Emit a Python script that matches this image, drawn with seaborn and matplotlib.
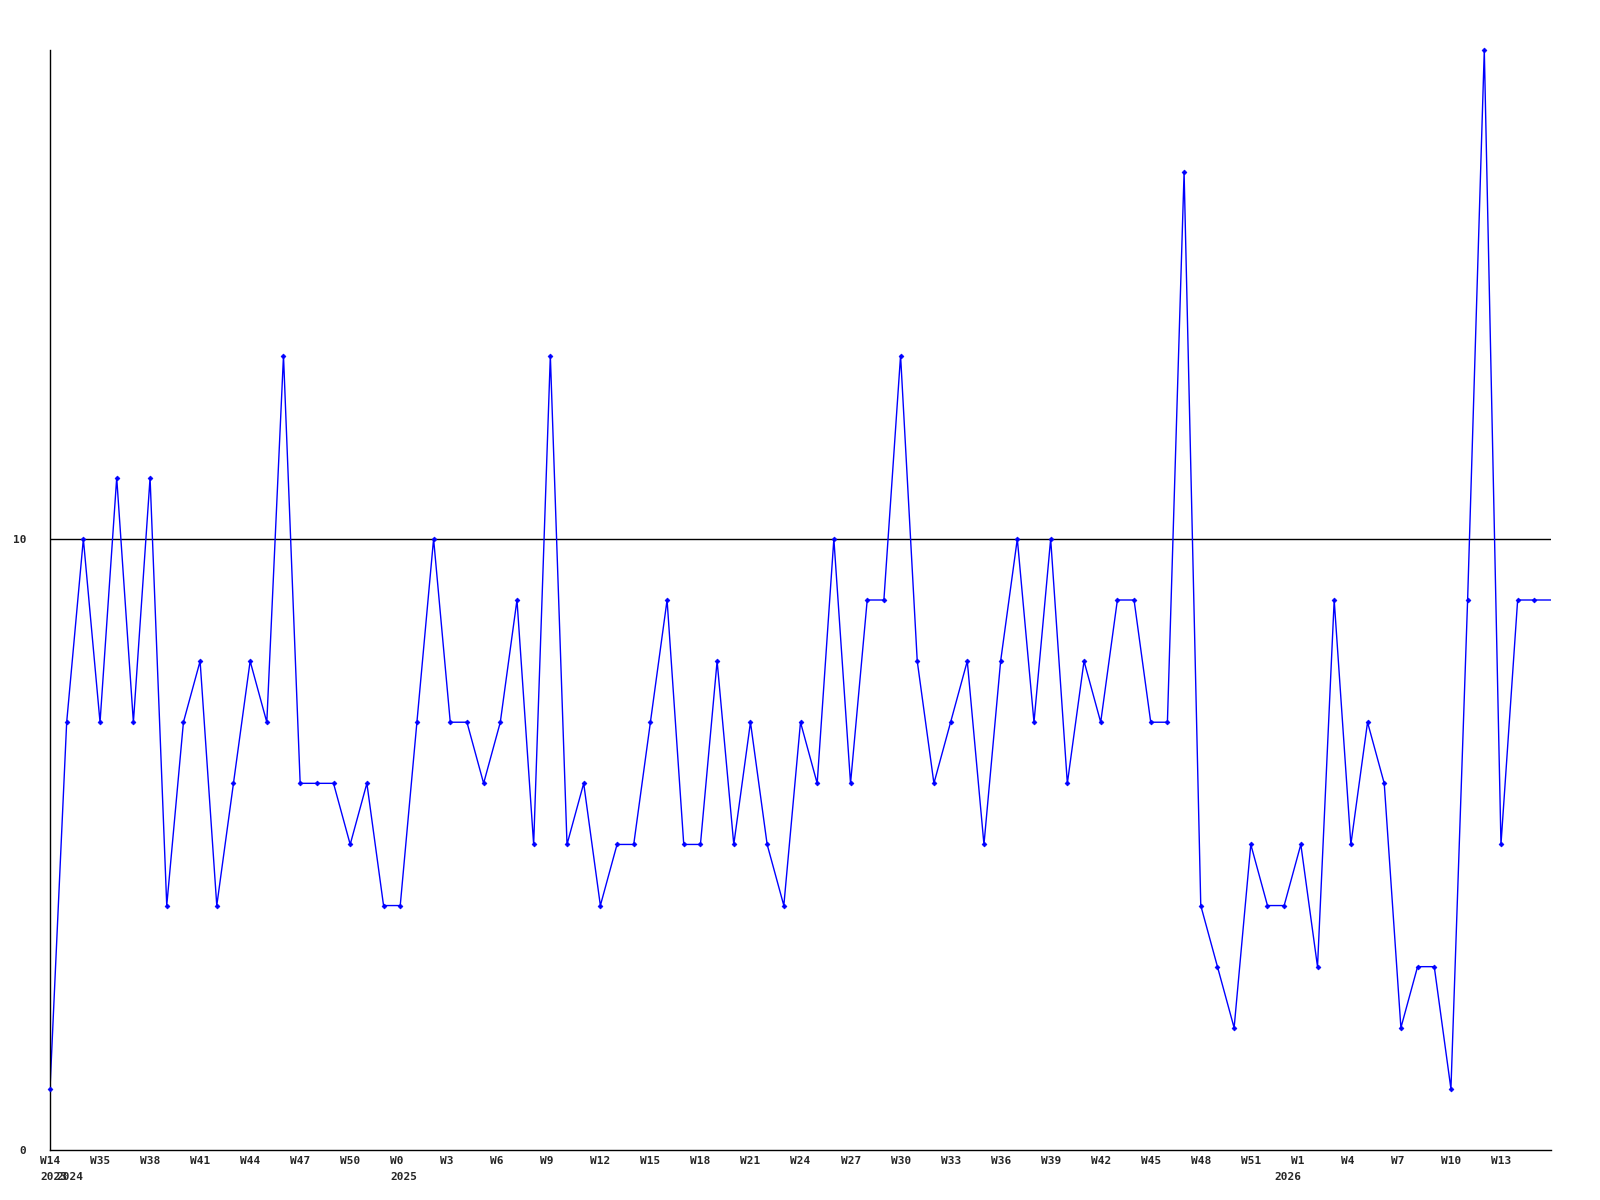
import matplotlib
matplotlib.use("Agg")
import matplotlib.pyplot as plt
import matplotlib.transforms as mtransforms
import seaborn as sns
import numpy as np

values = [1, 7, 10, 7, 11, 7, 11, 4, 7, 8, 4, 6, 8, 7, 13, 6, 6, 6, 5, 6,
          4, 4, 7, 10, 7, 7, 6, 7, 9, 5, 13, 5, 6, 4, 5, 5, 7, 9, 5, 5,
          8, 5, 7, 5, 4, 7, 6, 10, 6, 9, 9, 13, 8, 6, 7, 8, 5, 8, 10, 7,
          10, 6, 8, 7, 9, 9, 7, 7, 16, 4, 3, 2, 5, 4, 4, 5, 3, 9, 5, 7,
          6, 2, 3, 3, 1, 9, 18, 5, 9, 9, 9]

week_tick_pos = [0, 3, 6, 9, 12, 15, 18, 21, 24, 27, 30, 33, 36, 39, 42, 45,
                 48, 51, 54, 57, 60, 63, 66, 69, 72, 75, 78, 81, 84, 87]
week_tick_labels = ["W14", "W35", "W38", "W41", "W44", "W47", "W50", "W0",
                    "W3", "W6", "W9", "W12", "W15", "W18", "W21", "W24",
                    "W27", "W30", "W33", "W36", "W39", "W42", "W45", "W48",
                    "W51", "W1", "W4", "W7", "W10", "W13"]
year_pos = [0, 1, 21, 74]
year_labels = ["2023", "2024", "2025", "2026"]
ref_level = 10

sns.set_style("white")
plt.rcParams['font.family'] = ['DejaVu Sans Mono', 'DejaVu Sans']

fig = plt.figure(figsize=(16, 12), dpi=100)
ax = fig.add_axes([50/1600, 50/1200, (1551-50)/1600, 1100/1200])

x = np.arange(len(values))
sns.lineplot(x=x, y=values, ax=ax, color="#0000ff", linewidth=1.0)
sns.scatterplot(x=x[:-1], y=values[:-1], ax=ax, color="#0000ff", marker="D",
                s=6, linewidth=0.5, edgecolor="#0000ff", clip_on=False, zorder=5)
ax.axhline(ref_level, color="black", linewidth=1.0, zorder=1)

ax.set_xlim(0, len(values) - 1)
ax.set_ylim(0, 18)

for side in ["top", "right"]:
    ax.spines[side].set_visible(False)
for side in ["left", "bottom"]:
    ax.spines[side].set_color("black")
    ax.spines[side].set_linewidth(1.0)

ax.set_yticks([0, 10], ["0", "10"])
ax.tick_params(axis="y", length=0, pad=17, labelsize=8)
for t in ax.get_yticklabels():
    t.set_fontweight("bold")

ax.xaxis.remove_overlapping_locs = False
ax.set_xticks(week_tick_pos, week_tick_labels)
ax.set_xticks(year_pos, year_labels, minor=True)
ax.tick_params(axis="x", which="major", length=0, pad=4, labelsize=8)
ax.tick_params(axis="x", which="minor", length=0, pad=16, labelsize=8)
offset = mtransforms.ScaledTranslation(-10/100, 0, fig.dpi_scale_trans)
for t in ax.get_xticklabels(which="both"):
    t.set_horizontalalignment("left")
    t.set_fontweight("bold")
    t.set_transform(t.get_transform() + offset)

ax.set_xlabel("")
ax.set_ylabel("")
ax.grid(False)

fig.savefig("out.png", dpi=100)
